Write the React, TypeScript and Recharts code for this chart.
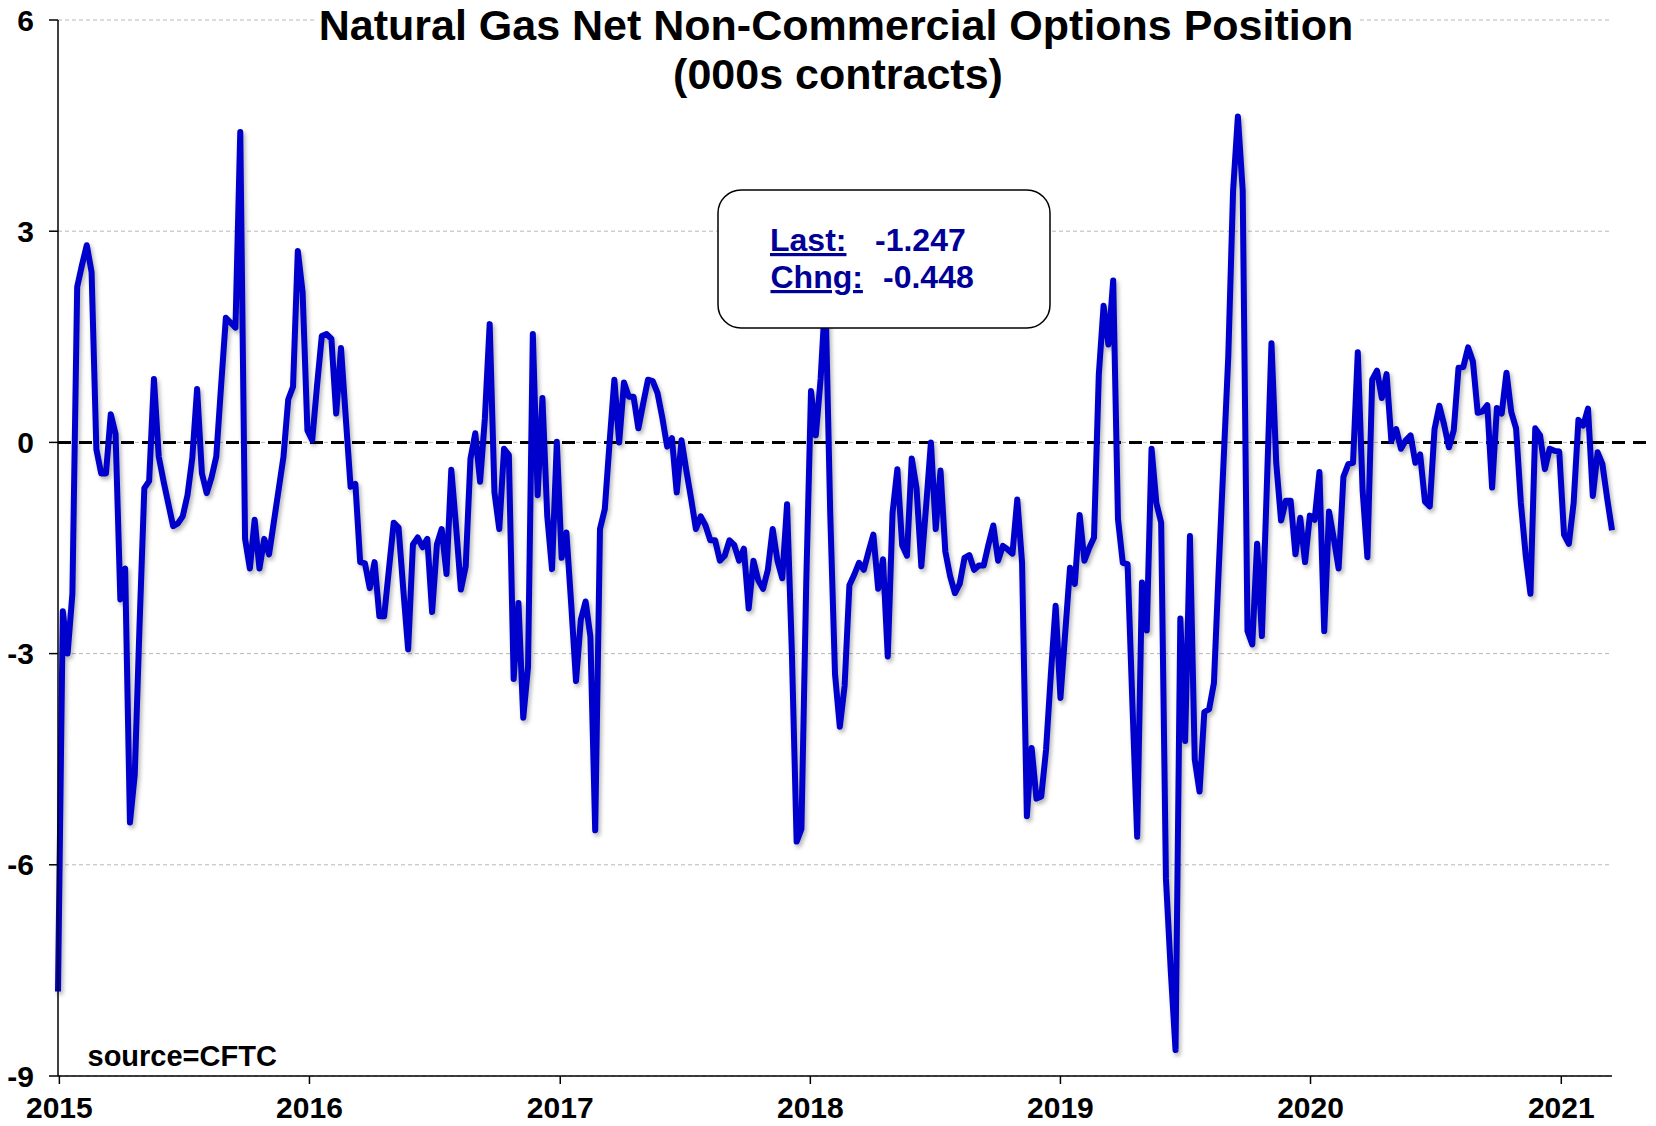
import React from 'react';
import { LineChart, Line, XAxis, YAxis, CartesianGrid, ReferenceLine } from 'recharts';

// Weekly report dates start here (one value per week)
const FIRST_WEEK = '2014-12-30';

// Net non-commercial options position, 000s contracts
const VALUES_2015 = [
  -7.8, -2.4, -3.0, -2.15, 2.21, 2.52, 2.8, 2.42, -0.1, -0.44,
  -0.44, 0.4, 0.12, -2.23, -1.79, -5.4, -4.72, -2.6, -0.65, -0.55,
  0.9, -0.2, -0.55, -0.87, -1.19, -1.15, -1.05, -0.75, -0.22, 0.76,
  -0.44, -0.72, -0.5, -0.2, 0.8, 1.77, 1.7, 1.63, 4.41, -1.37,
  -1.79, -1.1, -1.79, -1.37, -1.59, -1.13, -0.67, -0.21, 0.61, 0.79,
  2.72, 2.13, 0.17,
];
const VALUES_2016 = [
  0.03, 0.8, 1.51, 1.54, 1.47, 0.41, 1.34, 0.35, -0.63, -0.59,
  -1.7, -1.72, -2.07, -1.7, -2.47, -2.47, -1.8, -1.14, -1.21, -2.1,
  -2.94, -1.45, -1.35, -1.49, -1.37, -2.41, -1.45, -1.23, -1.87, -0.39,
  -1.2, -2.09, -1.76, -0.23, 0.13, -0.56, 0.34, 1.68, -0.71, -1.23,
  -0.09, -0.18, -3.36, -2.28, -3.91, -3.19, 1.54, -0.75, 0.63, -1.04,
  -1.8, 0.01,
];
const VALUES_2017 = [
  -1.64, -1.28, -2.3, -3.39, -2.52, -2.26, -2.76, -5.51, -1.23, -0.95,
  0.0, 0.89, 0.0, 0.85, 0.65, 0.65, 0.2, 0.55, 0.89, 0.87,
  0.7, 0.35, -0.06, 0.06, -0.71, 0.03, -0.4, -0.8, -1.23, -1.05,
  -1.18, -1.39, -1.39, -1.68, -1.61, -1.39, -1.46, -1.68, -1.51, -2.36,
  -1.68, -1.96, -2.08, -1.81, -1.23, -1.68, -1.93, -0.88, -2.96, -5.67,
  -5.49, -2.0,
];
const VALUES_2018 = [
  0.73, 0.1, 0.9, 2.1, -1.0, -3.29, -4.04, -3.46, -2.03, -1.88,
  -1.71, -1.81, -1.55, -1.31, -2.08, -1.66, -3.04, -1.0, -0.38, -1.46,
  -1.61, -0.23, -0.65, -1.76, -0.9, 0.0, -1.23, -0.4, -1.55, -1.9,
  -2.14, -2.01, -1.64, -1.6, -1.81, -1.75, -1.75, -1.45, -1.18, -1.68,
  -1.47, -1.52, -1.58, -0.81, -1.71, -5.31, -4.34, -5.06, -5.03, -4.37,
  -3.3, -2.32,
];
const VALUES_2019 = [
  -3.63, -2.7, -1.78, -2.01, -1.03, -1.68, -1.5, -1.35, 0.96, 1.94,
  1.39, 2.3, -1.09, -1.71, -1.73, -3.7, -5.6, -1.99, -2.67, -0.09,
  -0.86, -1.14, -6.2, -7.5, -8.63, -2.5, -4.24, -1.33, -4.5, -4.96,
  -3.83, -3.79, -3.42, -1.81, -0.29, 1.23, 3.58, 4.63, 3.58, -2.68,
  -2.87, -1.44, -2.75, -0.7, 1.41, -0.3, -1.11, -0.83, -0.83, -1.59,
  -1.07, -1.7,
];
const VALUES_2020 = [
  -1.04, -1.1, -0.42, -2.68, -0.98, -1.37, -1.79, -0.49, -0.31, -0.29,
  1.28, -0.68, -1.63, 0.89, 1.02, 0.63, 0.97, 0.02, 0.19, -0.09,
  0.03, 0.1, -0.29, -0.17, -0.84, -0.91, 0.19, 0.52, 0.25, -0.07,
  0.17, 1.06, 1.07, 1.35, 1.15, 0.42, 0.44, 0.53, -0.64, 0.49,
  0.41, 0.99, 0.43, 0.2, -0.86, -1.6, -2.15, 0.2, 0.1, -0.38,
  -0.09, -0.12,
];
const VALUES_2021 = [-0.13, -1.31, -1.44, -0.86, 0.32, 0.24, 0.48, -0.76, -0.14, -0.31, -0.799, -1.247];

const Y_TICKS = [-9, -6, -3, 0, 3, 6];
const YEAR_TICKS = [2015, 2016, 2017, 2018, 2019, 2020, 2021];
const ZERO_LINE_END = '2021-05-08';

const TITLE_LINE_1 = 'Natural Gas Net Non-Commercial Options Position';
const TITLE_LINE_2 = '(000s contracts)';
const LAST_LABEL = 'Last:';
const LAST_VALUE = '-1.247';
const CHNG_LABEL = 'Chng:';
const CHNG_VALUE = '-0.448';
const SOURCE = 'source=CFTC';

const FONT = '"Liberation Sans", Arial, Helvetica, sans-serif';
const DAY = 86400000;
const START = Date.parse(FIRST_WEEK + 'T00:00:00Z');
const VALUES = [
  ...VALUES_2015, ...VALUES_2016, ...VALUES_2017, ...VALUES_2018,
  ...VALUES_2019, ...VALUES_2020, ...VALUES_2021,
];
const DATA = VALUES.map((v, i) => ({ t: START + i * 7 * DAY, v }));
const X_TICKS = YEAR_TICKS.map((y) => Date.UTC(y, 0, 1));
const ZERO_END = Date.parse(ZERO_LINE_END + 'T00:00:00Z');

const tickStyle = { fill: '#000', fontSize: 30, fontWeight: 700, fontFamily: FONT };
const boxText = { fill: '#000099', fontSize: 32, fontWeight: 700, fontFamily: FONT };

export default function App() {
  return (
    <div style={{ position: 'absolute', left: 0, top: 0, width: 1656, height: 1126, background: '#fff' }}>
      <style>{`.nat-line path { filter: drop-shadow(2px 3px 2px rgba(0,0,0,0.3)); }`}</style>
      <LineChart width={1656} height={1126} data={DATA} margin={{ top: 20, right: 44, bottom: 0, left: 0 }}>
        <CartesianGrid vertical={false} stroke="#b8b8b8" strokeDasharray="4 3" />
        <XAxis
          dataKey="t"
          type="number"
          domain={[DATA[0].t, DATA[DATA.length - 1].t]}
          ticks={X_TICKS}
          interval={0}
          tickFormatter={(t: number) => String(new Date(t).getUTCFullYear())}
          height={50}
          tickSize={8}
          tickMargin={13}
          axisLine={{ stroke: '#000', strokeWidth: 1.5 }}
          tickLine={{ stroke: '#000', strokeWidth: 1.5 }}
          tick={tickStyle}
        />
        <YAxis
          type="number"
          domain={[-9, 6]}
          ticks={Y_TICKS}
          interval={0}
          width={58}
          tickSize={9}
          tickMargin={15}
          axisLine={{ stroke: '#000', strokeWidth: 1.5 }}
          tickLine={{ stroke: '#000', strokeWidth: 1.5 }}
          tick={tickStyle}
        />
        <ReferenceLine
          segment={[{ x: START, y: 0 }, { x: ZERO_END, y: 0 }]}
          ifOverflow="visible"
          stroke="#000"
          strokeWidth={3}
          strokeDasharray="13 8"
        />
        <Line
          className="nat-line"
          type="linear"
          dataKey="v"
          stroke="#0000cc"
          strokeWidth={6}
          strokeLinejoin="round"
          dot={false}
          activeDot={false}
          isAnimationActive={false}
        />
      </LineChart>
      <svg width={1656} height={1126} style={{ position: 'absolute', left: 0, top: 0, pointerEvents: 'none' }}>
        <rect x={315} y={0} width={1042} height={46} fill="#fff" />
        <text x={836} y={40} textAnchor="middle" fontSize={43} fontWeight={700} fontFamily={FONT} fill="#000">
          {TITLE_LINE_1}
        </text>
        <text x={838} y={89} textAnchor="middle" fontSize={43} fontWeight={700} fontFamily={FONT} fill="#000">
          {TITLE_LINE_2}
        </text>
        <rect x={718} y={190} width={332} height={138} rx={23} ry={23} fill="#fff" stroke="#000" strokeWidth={1.5} />
        <text x={770} y={251} {...boxText} style={{ textDecoration: 'underline' }}>{LAST_LABEL}</text>
        <text x={875} y={251} {...boxText}>{LAST_VALUE}</text>
        <text x={770.5} y={288} {...boxText} style={{ textDecoration: 'underline' }}>{CHNG_LABEL}</text>
        <text x={883} y={288} {...boxText}>{CHNG_VALUE}</text>
        <text x={87.5} y={1066} fontSize={29} fontWeight={700} fontFamily={FONT} fill="#000">{SOURCE}</text>
      </svg>
    </div>
  );
}
